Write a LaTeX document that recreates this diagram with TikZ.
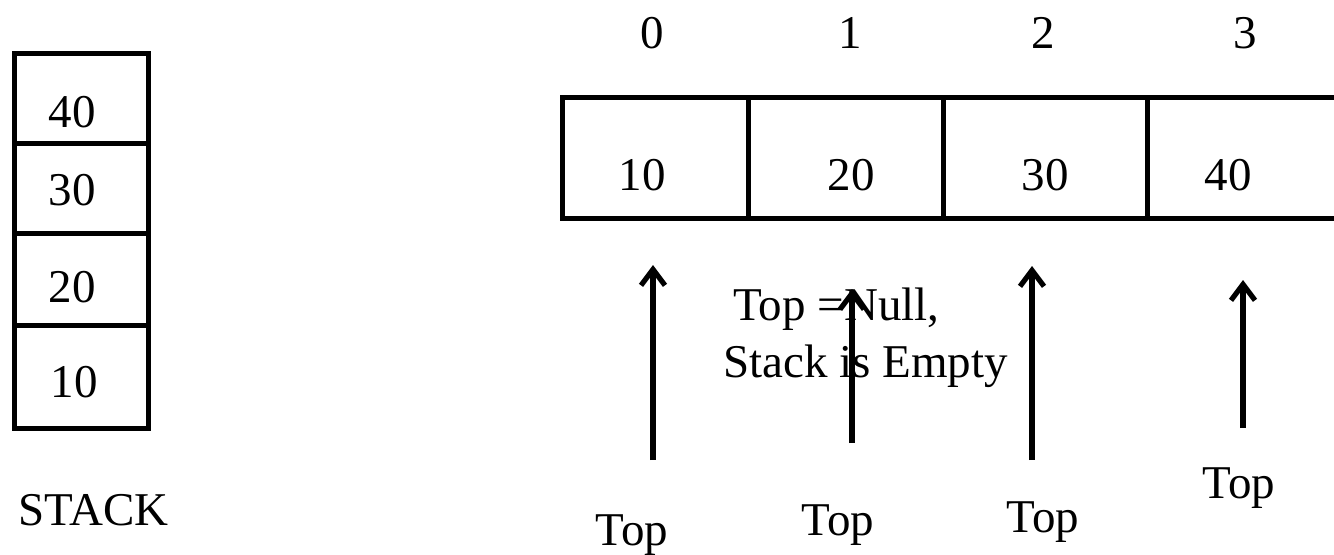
\documentclass[tikz,border=0pt]{standalone}
\usepackage{fontspec}
\setmainfont{Liberation Serif}
\usetikzlibrary{arrows.meta}

\begin{document}
\begin{tikzpicture}[
  x=0.5pt, y=-0.5pt, font=\fontsize{23.5}{28}\selectfont,
  cell/.style={draw=black, line width=2.5pt},
  ptr/.style ={-{Straight Barb[length=8pt,width=12pt]}, line width=2.6pt, line join=round},
  val/.style ={inner sep=0pt, anchor=base},
  note/.style={inner sep=0pt, anchor=base west},
]
\useasboundingbox (0,0) rectangle (1334,554);

% ----- the stack, drawn upright -----------------------------------------
\def\sL{14}\def\sR{148}
\draw[cell] (\sL,53) rectangle (\sR,428);
\foreach \y in {143,233,325} \draw[cell] (\sL,\y) -- (\sR,\y);
\node[val] (s40) at (72,127) {40};
\node[val] (s30) at (72,205) {30};
\node[val] (s20) at (72,302) {20};
\node[val] (s10) at (74,397) {10};
\node[note] (stk) at (18,525) {STACK};

% ----- the same stack as an array ---------------------------------------
\def\aT{97}\def\aB{218}
\draw[cell] (1334,\aT) -- (562,\aT) -- (562,\aB) -- (1334,\aB);
\foreach \x in {748,943,1147} \draw[cell] (\x,\aT) -- (\x,\aB);
\node[val] (a0) at (642,190)  {10};
\node[val] (a1) at (851,190)  {20};
\node[val] (a2) at (1045,190) {30};
\node[val] (a3) at (1228,190) {40};

% index row
\node[val] (i0) at (652,48)  {0};
\node[val] (i1) at (850,48)  {1};
\node[val] (i2) at (1043,48) {2};
\node[val] (i3) at (1245,48) {3};

% ----- empty stack note ---------------------------------------------------
\node[note] (null) at (733,320) {Top =Null,};
\node[note] (empty) at (723,377) {Stack is Empty};

% ----- top pointers -------------------------------------------------------
\node[val] (t1) at (632,545)  {Top};
\node[val] (t2) at (838,535)  {Top};
\node[val] (t3) at (1043,532) {Top};
\node[val] (t4) at (1239,498) {Top};

\coordinate (p1a) at (653,265);  \coordinate (p1b) at (653,460);
\coordinate (p2a) at (852,289);  \coordinate (p2b) at (852,443);
\coordinate (p3a) at (1032,266); \coordinate (p3b) at (1032,460);
\coordinate (p4a) at (1243,280); \coordinate (p4b) at (1243,428);
\draw[ptr] (p1b) -- (p1a);
\draw[ptr] (p2b) -- (p2a);
\draw[ptr] (p3b) -- (p3a);
\draw[ptr] (p4b) -- (p4a);

\end{tikzpicture}
\end{document}
